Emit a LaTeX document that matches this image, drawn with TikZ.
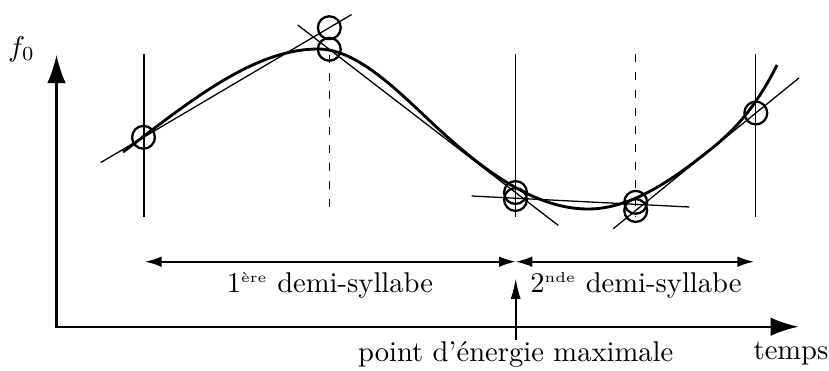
\documentclass[tikz,border=0pt]{standalone}
\usepackage{amsmath}
\usepackage{tikz}
\usetikzlibrary{arrows.meta}
\usetikzlibrary{calc}

\begin{document}
\begin{tikzpicture}[x=0.35pt,y=-0.35pt,
    ring/.style={draw, circle, line width=0.8pt, minimum size=8pt, inner sep=0pt},
    guide/.style={line width=0.45pt},
    dguide/.style={line width=0.45pt, dash pattern=on 2.7pt off 3.6pt},
    axis/.style={line width=0.8pt, {Latex[length=9.8pt,width=6.5pt]}-{Latex[length=9.8pt,width=6.5pt]}},
    span/.style={line width=0.6pt, {Latex[length=5.8pt,width=3.7pt]}-{Latex[length=5.8pt,width=3.7pt]}}]
    \useasboundingbox (0,0) rectangle (829,370);

    % Axes
    \coordinate (o) at (56.5,326.7);
    \coordinate (ytip) at (56.5,55);
    \coordinate (xtip) at (798.5,326.7);
    \draw[axis] (ytip) -- (o) -- (xtip);
    \node (fzero) [anchor=base] at (21.5,56) {$f_0$};
    \node (temps) [anchor=base] at (791,359) {temps};

    % Syllable boundaries
    \draw[guide] (144,54) -- (144,217);
    \draw[dguide] (329.3,55) -- (329.3,217);
    \draw[guide] (515.5,54) -- (515.5,217);
    \draw[dguide] (635.6,54) -- (635.6,217);
    \draw[guide] (755.8,54) -- (755.8,217);

    % Contour
    \draw[line width=1pt] (123,152) .. controls (188,103) and (253,49) .. (318,49)
        .. controls (355,49) and (393,86) .. (430,121)
        .. controls (483,171) and (535,209) .. (588,209)
        .. controls (623,209) and (658,189.6) .. (693,163)
        .. controls (721,141.7) and (749,121) .. (777,65);

    % Target points
    \node[ring] (c1) at (143.5,137.3) {};
    \node[ring] (p1) at (329.3,27.7) {};
    \node[ring] (p2) at (329.3,49.3) {};
    \node[ring] (m1) at (515.5,192.5) {};
    \node[ring] (m2) at (515.5,199.5) {};
    \node[ring] (n1) at (635.7,202.3) {};
    \node[ring] (n2) at (635.7,210.5) {};
    \node[ring] (e1) at (755.8,113) {};

    % Targets
    \coordinate (h1) at (471.7,196);
    \coordinate (h2) at (689.3,207);
    \draw[guide] ($(c1.center)!-0.23!(p1.center)$) -- ($(c1.center)!1.12!(p1.center)$);
    \draw[guide] ($(p2.center)!-0.17!(m1.center)$) -- ($(p2.center)!1.23!(m1.center)$);
    \draw[guide] (h1) -- (h2);
    \draw[guide] ($(n2.center)!-0.187!(e1.center)$) -- ($(n2.center)!1.36!(e1.center)$);

    % Half-syllables
    \coordinate (s0) at (145,261.7);
    \coordinate (s1) at (515.7,261.7);
    \coordinate (s2) at (754,261.7);
    \draw[span] (s0) -- (s1);
    \draw[span] (s1) -- (s2);
    \node (half1) [anchor=base] at (330,292.7) {1\textsuperscript{\tiny ère} demi-syllabe};
    \node (half2) [anchor=base] at (636,292.7) {2\textsuperscript{\tiny nde} demi-syllabe};

    % Energy maximum
    \coordinate (pemtip) at (515.7,278.3);
    \node (pem) [anchor=base, inner ysep=0.5pt] at (515.7,361.7) {point d'énergie maximale};
    \draw[line width=0.6pt, -{Latex[length=7.2pt,width=3.5pt]}] (pem.north) -- (pemtip);
\end{tikzpicture}
\end{document}
